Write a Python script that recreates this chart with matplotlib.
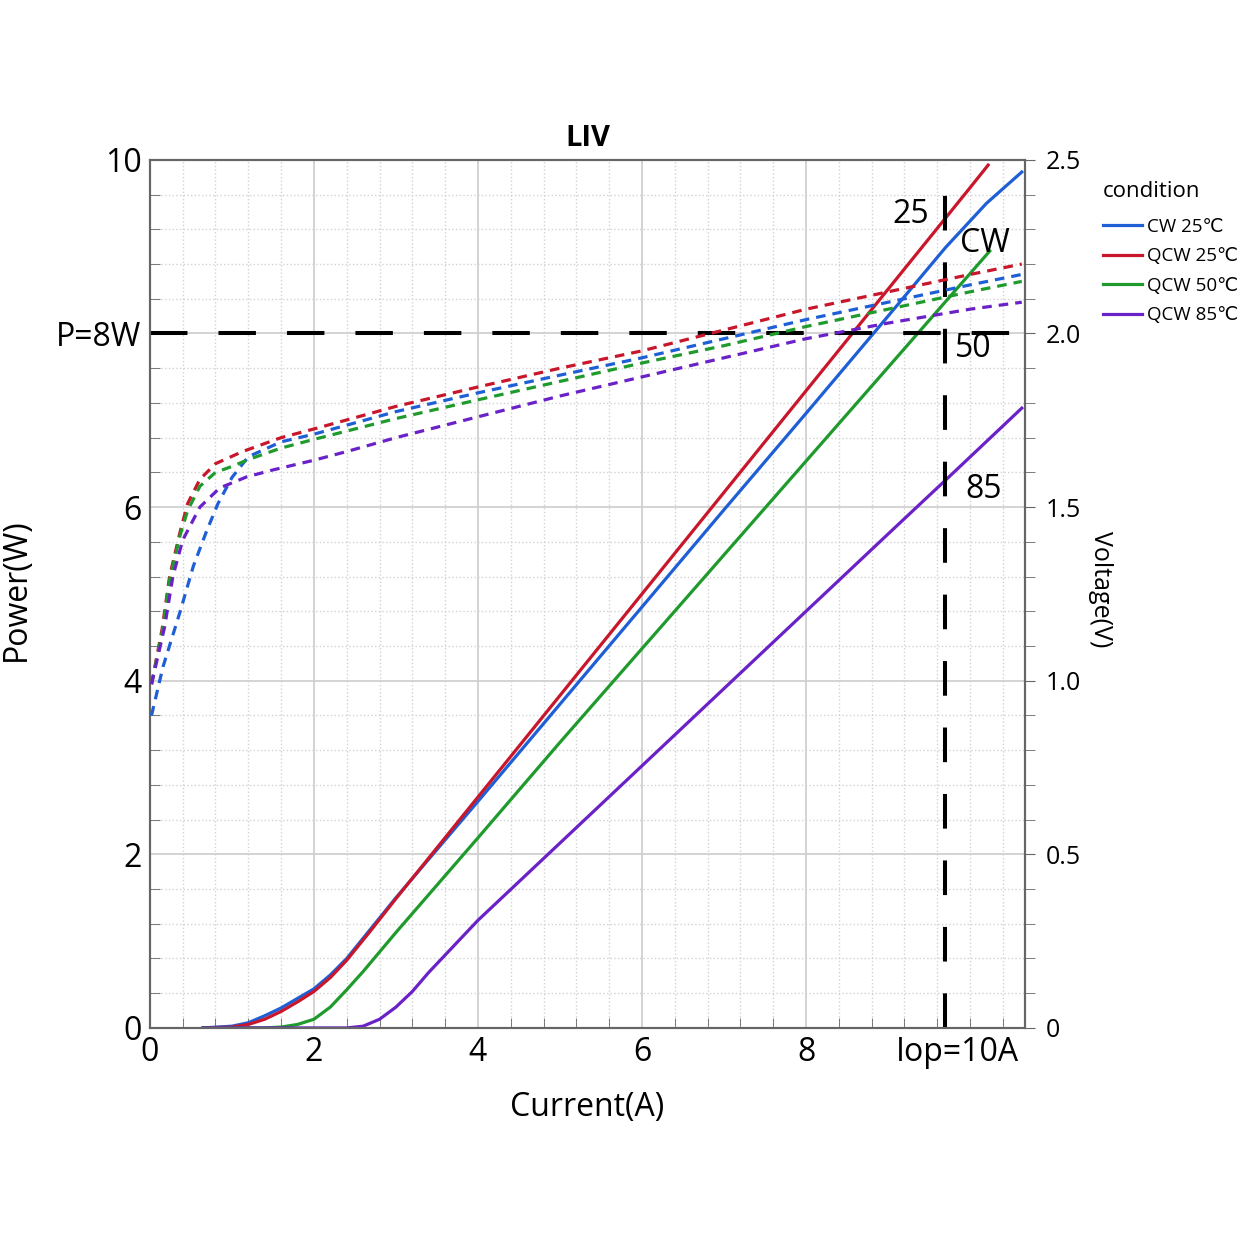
import numpy as np
import matplotlib
matplotlib.use('Agg')
import matplotlib.pyplot as plt
from matplotlib.ticker import MultipleLocator

plt.rcParams['font.family'] = ['Open Sans', 'DejaVu Sans']

# power curves (left axis, W)
p_qcw25_x = [0.65, 1.0, 1.2, 1.4, 1.6, 1.8, 2.0, 2.2, 2.4, 2.7, 3.0, 4.0, 5.0, 6.0, 7.0, 8.0, 9.0, 10.0, 10.22]
p_qcw25_y = [0.0, 0.01, 0.04, 0.10, 0.19, 0.30, 0.42, 0.58, 0.78, 1.13, 1.49, 2.66, 3.83, 5.0, 6.17, 7.34, 8.51, 9.68, 9.94]

p_cw25_x = [0.65, 1.0, 1.2, 1.4, 1.6, 1.8, 2.0, 2.2, 2.4, 2.7, 3.0, 4.0, 5.0, 6.0, 7.0, 8.0, 9.0, 9.7, 10.2, 10.63]
p_cw25_y = [0.0, 0.02, 0.06, 0.14, 0.23, 0.34, 0.45, 0.61, 0.80, 1.15, 1.50, 2.61, 3.73, 4.85, 5.97, 7.08, 8.20, 8.99, 9.50, 9.86]

p_qcw50_x = [0.65, 1.4, 1.6, 1.8, 2.0, 2.2, 2.4, 2.6, 3.0, 4.0, 5.0, 6.0, 7.0, 8.0, 9.0, 10.24]
p_qcw50_y = [0.0, 0.0, 0.01, 0.04, 0.10, 0.24, 0.44, 0.65, 1.10, 2.19, 3.29, 4.37, 5.45, 6.53, 7.61, 8.95]

p_qcw85_x = [0.65, 2.4, 2.6, 2.8, 3.0, 3.2, 3.4, 4.0, 5.0, 6.0, 7.0, 8.0, 9.0, 9.7, 10.63]
p_qcw85_y = [0.0, 0.0, 0.02, 0.10, 0.24, 0.42, 0.64, 1.24, 2.13, 3.02, 3.91, 4.80, 5.69, 6.31, 7.14]

# voltage curves (right axis, V)
v_qcw25_x = [0.02, 0.15, 0.24, 0.37, 0.46, 0.61, 0.8, 1.13, 1.6, 2, 3, 4, 5, 6, 7, 8, 9, 10, 10.63]
v_qcw25_y = [0.99, 1.15, 1.30, 1.43, 1.51, 1.58, 1.625, 1.66, 1.70, 1.725, 1.79, 1.846, 1.90, 1.95, 2.01, 2.07, 2.12, 2.17, 2.20]

v_cw25_x = [0.02, 0.16, 0.37, 0.53, 0.69, 0.83, 1.0, 1.2, 1.6, 2, 3, 4, 5, 6, 7, 8, 9, 10, 10.63]
v_cw25_y = [0.90, 1.04, 1.20, 1.33, 1.43, 1.51, 1.585, 1.645, 1.688, 1.71, 1.775, 1.829, 1.88, 1.93, 1.985, 2.04, 2.09, 2.14, 2.17]

v_qcw50_x = [0.02, 0.15, 0.24, 0.37, 0.46, 0.61, 0.8, 1.0, 1.2, 1.6, 2, 3, 4, 5, 6, 7, 8, 9, 10, 10.63]
v_qcw50_y = [0.99, 1.14, 1.29, 1.42, 1.49, 1.56, 1.60, 1.617, 1.637, 1.67, 1.695, 1.755, 1.809, 1.862, 1.915, 1.965, 2.02, 2.07, 2.12, 2.15]

v_qcw85_x = [0.02, 0.18, 0.28, 0.40, 0.61, 0.85, 1.18, 1.5, 2.0, 2.4, 3, 4, 5, 6, 7, 8, 9, 10, 10.63]
v_qcw85_y = [0.99, 1.155, 1.30, 1.405, 1.50, 1.555, 1.587, 1.607, 1.635, 1.66, 1.70, 1.76, 1.82, 1.875, 1.93, 1.985, 2.03, 2.07, 2.09]

labels = ['CW 25℃', 'QCW 25℃', 'QCW 50℃', 'QCW 85℃']
colors = ['#1f5fd6', '#c8162b', '#1f9a2c', '#6a22c8']

i_op = 9.7
p_ref = 8

fig = plt.figure(figsize=(12.49, 12.49), dpi=100)
ax = fig.add_axes([0.120, 0.177, 0.7007, 0.695])
ax2 = ax.twinx()

ax.set_xlim(0, 10.67)
ax.set_ylim(0, 10)
ax2.set_ylim(0, 2.5)

# grids
ax.xaxis.set_minor_locator(MultipleLocator(0.4))
ax.yaxis.set_minor_locator(MultipleLocator(0.4))
ax.set_axisbelow(True)
for xv in [0, 2, 4, 6, 8]:
    ax.axvline(xv, color='#cccccc', lw=1.2, zorder=0)
for yv in [2, 4, 6, 8]:
    ax.axhline(yv, color='#cccccc', lw=1.2, zorder=0)
ax.grid(which='minor', color='#d2d2d2', linestyle=':', lw=1.0)

lw = 2.3
px = [p_cw25_x, p_qcw25_x, p_qcw50_x, p_qcw85_x]
py = [p_cw25_y, p_qcw25_y, p_qcw50_y, p_qcw85_y]
vx = [v_cw25_x, v_qcw25_x, v_qcw50_x, v_qcw85_x]
vy = [v_cw25_y, v_qcw25_y, v_qcw50_y, v_qcw85_y]
handles = []
for k in range(4):
    h, = ax.plot(px[k], py[k], color=colors[k], lw=lw, label=labels[k], zorder=3)
    handles.append(h)
    ax2.plot(vx[k], vy[k], color=colors[k], lw=lw, linestyle=(0, (3, 2.2)), zorder=3)

# reference lines
ax.axhline(p_ref, color='black', lw=2.9, linestyle=(0, (9.3, 7.7)), zorder=4)
ax.plot([i_op, i_op], [0, 9.95], color='black', lw=2.9, linestyle=(0, (8.6, 7.9)), zorder=4)

# ticks
ax.set_xticks([0, 2, 4, 6, 8, 9.85])
ax.set_xticklabels(['0', '2', '4', '6', '8', 'Iop=10A'])
ax.set_yticks([0, 2, 4, 6, 8, 10])
ax.set_yticklabels(['0', '2', '4', '6', 'P=8W', '10'])
ax.tick_params(axis='both', which='major', labelsize=23, length=0, pad=6)
ax.tick_params(axis='both', which='minor', direction='in', length=7, color='#666666')
ax.tick_params(axis='y', which='minor', left=True, right=False)
ax.tick_params(axis='x', which='minor', top=False)

ax2.set_yticks([0, 0.5, 1.0, 1.5, 2.0, 2.5])
ax2.set_yticklabels(['0', '0.5', '1.0', '1.5', '2.0', '2.5'])
ax2.yaxis.set_minor_locator(MultipleLocator(0.1))
ax2.tick_params(axis='y', which='major', labelsize=18, length=7, direction='out', color='#666666', pad=8)
ax2.tick_params(axis='y', which='minor', length=7, direction='out', color='#666666')

for a in (ax, ax2):
    for s in a.spines.values():
        s.set_color('#666666')
        s.set_linewidth(1.5)

ax.set_xlabel('Current(A)', fontsize=23, labelpad=16)
ax.set_ylabel('Power(W)', fontsize=23)
ax.yaxis.set_label_coords(-0.134, 0.505)
ax2.set_ylabel('Voltage(V)', fontsize=18, rotation=-90)
ax2.yaxis.set_label_coords(1.10, 0.505)
ax.set_title('LIV', fontsize=21, fontweight='bold', pad=10)

# curve annotations
ax.text(9.28, 9.37, '25', fontsize=23, ha='center', va='center', zorder=5)
ax.text(10.18, 9.04, 'CW', fontsize=23, ha='center', va='center', zorder=5)
ax.text(10.04, 7.83, '50', fontsize=23, ha='center', va='center', zorder=5)
ax.text(10.16, 6.20, '85', fontsize=23, ha='center', va='center', zorder=5)

fig.legend(handles=handles, labels=labels, title='condition', loc='upper left',
           bbox_to_anchor=(1086 / 1249, 1 - 168 / 1249), frameon=False,
           fontsize=13.5, title_fontsize=16, handlelength=2.1, handletextpad=0.25,
           labelspacing=0.62, alignment='left')
fig.legends[0].get_title().set_position((0, 4))

fig.savefig('out.png', dpi=100)
